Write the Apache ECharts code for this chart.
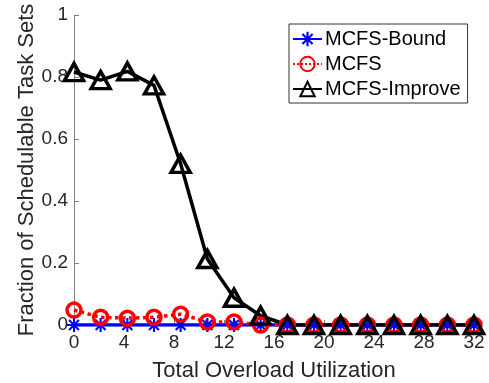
<!DOCTYPE html>
<html lang="en">
<head>
    <meta charset="UTF-8">
    <title>Overload</title>
    <script src="https://cdn.jsdelivr.net/npm/echarts@6/dist/echarts.min.js"></script>
</head>
<body style="margin:0">
<div id="main" style="width: 489px; height: 383px"></div>
<script type="text/javascript">
    // x positions of the samples (16 points spread over 0..32)
    var xVals = [0, 2.13, 4.27, 6.4, 8.53, 10.67, 12.8, 14.93, 17.07, 19.2, 21.33, 23.47, 25.6, 27.73, 29.87, 32];
    var bound = [0, 0, 0, 0, 0, 0, 0, 0, 0, 0, 0, 0, 0, 0, 0, 0];
    var mcfs = [0.048, 0.025, 0.022, 0.025, 0.035, 0.01, 0.01, 0.0, 0, 0, 0, 0, 0, 0, 0, 0];
    var improve = [0.816, 0.79, 0.818, 0.773, 0.52, 0.213, 0.088, 0.03, 0, 0, 0, 0, 0, 0, 0, 0];

    function pairs(ys) {
        return ys.map(function (y, i) { return [xVals[i], y]; });
    }

    // asterisk made of four bars
    var star = 'path://M0 8.5L20 8.5L20 11.5L0 11.5Z M8.5 0L11.5 0L11.5 20L8.5 20Z ' +
        'M4 1.9L18.1 16L16 18.1L1.9 4Z M16 1.9L18.1 4L4 18.1L1.9 16Z';

    var font = 'Liberation Sans, Arial, sans-serif';
    var myChart = echarts.init(document.getElementById('main'));
    var option = {
        animation: false,
        textStyle: {fontFamily: font},
        grid: {left: 74, right: 15, top: 15, bottom: 58, containLabel: false, outerBoundsMode: 'none'},
        legend: {
            orient: 'vertical',
            left: 289,
            top: 24,
            padding: [5, 7, 4, 3],
            itemWidth: 29,
            itemHeight: 18,
            itemGap: 5,
            borderColor: '#333',
            borderWidth: 1,
            textStyle: {fontSize: 20, color: '#000', fontFamily: font, padding: [0, 0, 0, -2]},
            data: ['MCFS-Bound', 'MCFS', 'MCFS-Improve']
        },
        xAxis: {
            type: 'value',
            min: 0, max: 32, interval: 4,
            name: 'Total Overload Utilization',
            nameLocation: 'middle',
            nameGap: 35,
            nameMoveOverlap: false,
            nameTextStyle: {fontSize: 22, color: '#262626'},
            axisLine: {lineStyle: {color: '#808080'}},
            axisTick: {inside: true, length: 5, lineStyle: {color: '#808080'}},
            axisLabel: {fontSize: 19, color: '#262626', margin: 8},
            splitLine: {show: false}
        },
        yAxis: {
            type: 'value',
            min: 0, max: 1, interval: 0.2,
            name: 'Fraction of Schedulable Task Sets',
            nameLocation: 'middle',
            nameGap: 36,
            nameMoveOverlap: false,
            nameTextStyle: {fontSize: 22, color: '#262626'},
            axisLine: {show: true, lineStyle: {color: '#808080'}},
            axisTick: {show: true, inside: true, length: 5, lineStyle: {color: '#808080'}},
            axisLabel: {fontSize: 19, color: '#262626', margin: 6},
            splitLine: {show: false}
        },
        series: [
            {
                name: 'MCFS-Bound',
                type: 'line',
                data: pairs(bound),
                symbol: star,
                symbolSize: 14,
                itemStyle: {color: '#0000ff'},
                lineStyle: {color: '#0000ff', width: 3.5}
            },
            {
                name: 'MCFS',
                type: 'line',
                data: pairs(mcfs),
                symbol: 'circle',
                symbolSize: 14,
                itemStyle: {color: 'rgba(0,0,0,0)', borderColor: '#ff0000', borderWidth: 3.5},
                lineStyle: {color: '#ff0000', width: 3.5, type: 'dotted'}
            },
            {
                name: 'MCFS-Improve',
                type: 'line',
                data: pairs(improve),
                symbol: 'triangle',
                symbolSize: [19, 17],
                itemStyle: {color: 'rgba(0,0,0,0)', borderColor: '#000', borderWidth: 3.5},
                lineStyle: {color: '#000', width: 3.5}
            }
        ]
    };
    myChart.setOption(option);
</script>
</body>
</html>
